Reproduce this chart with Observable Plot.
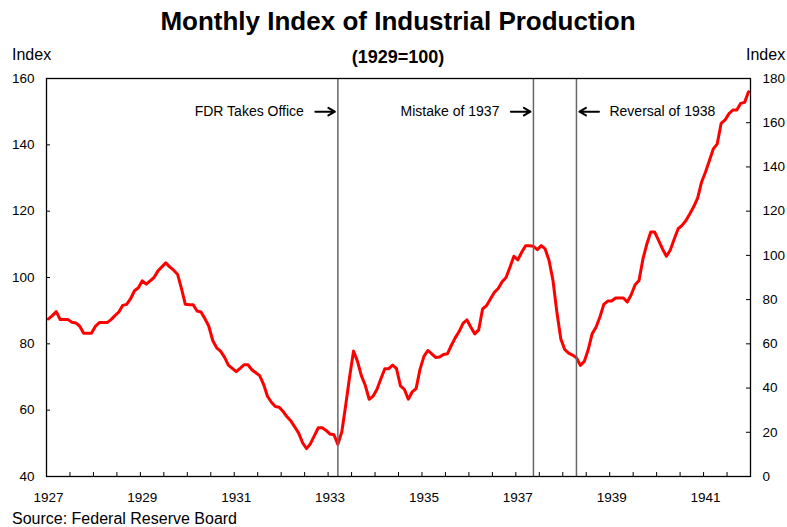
<!DOCTYPE html>
<html>
<head>
<meta charset="utf-8">
<script src="https://cdn.jsdelivr.net/npm/d3@7"></script>
<script src="https://cdn.jsdelivr.net/npm/@observablehq/plot@0.6"></script>
<style>
  html, body { margin: 0; padding: 0; background: #fff; }
  #wrap { position: relative; width: 787px; height: 527px; font-family: "Liberation Sans", Arial, sans-serif; color: #000; }
  #wrap svg { position: absolute; left: 0; top: 0; }
  .t { position: absolute; line-height: 1; white-space: nowrap; }
</style>
</head>
<body>
<div id="wrap">
  <div class="t" style="left:46px;width:704px;top:8px;text-align:center;font-size:26px;font-weight:bold;">Monthly Index of Industrial Production</div>
  <div class="t" style="left:46px;width:704px;top:48px;text-align:center;font-size:18px;font-weight:bold;">(1929=100)</div>
  <div class="t" style="left:12px;top:47px;font-size:16px;">Index</div>
  <div class="t" style="left:746px;top:47px;font-size:16px;">Index</div>
  <div class="t" style="left:12px;top:511px;font-size:16px;">Source: Federal Reserve Board</div>
</div>
<script>
// Monthly values (Jan..Dec), left axis scale, 1929 = 100
const ip1927 = [87.5, 88.5, 89.7, 87.3, 87.3, 87.3, 86.5, 86.3, 85.3, 83.2, 83.2, 83.2];
const ip1928 = [85.3, 86.4, 86.4, 86.4, 87.3, 88.5, 89.6, 91.6, 91.9, 93.6, 96.0, 96.9];
const ip1929 = [99.0, 98.0, 99.0, 100.0, 102.0, 103.2, 104.4, 103.2, 102.2, 101.0, 96.7, 91.9];
const ip1930 = [91.8, 91.8, 89.9, 89.6, 87.6, 85.3, 81.0, 78.8, 77.8, 76.0, 73.6, 72.6];
const ip1931 = [71.6, 72.6, 73.7, 73.7, 72.2, 71.3, 70.4, 67.8, 64.2, 62.4, 61.1, 60.9];
const ip1932 = [59.6, 58.0, 56.7, 54.9, 53.0, 50.1, 48.4, 49.9, 52.3, 54.7, 54.7, 53.9];
const ip1933 = [52.8, 52.6, 49.7, 53.4, 61.5, 70.0, 77.8, 74.8, 70.4, 67.5, 63.3, 64.2];
const ip1934 = [66.3, 69.5, 72.5, 72.5, 73.6, 72.5, 67.3, 66.3, 63.3, 65.5, 66.5, 72.3];
const ip1935 = [76.2, 78.0, 77.0, 75.9, 76.0, 76.8, 77.0, 79.5, 81.8, 83.7, 86.2, 87.2];
const ip1936 = [85.0, 83.0, 84.2, 90.5, 91.5, 93.5, 95.5, 96.7, 98.7, 100.0, 103.1, 106.4];
const ip1937 = [105.3, 107.6, 109.6, 109.6, 109.4, 108.4, 109.6, 108.6, 105.1, 99.1, 89.5, 81.5];
const ip1938 = [78.3, 77.2, 76.6, 75.8, 73.5, 74.7, 78.2, 83.0, 85.0, 88.1, 91.9, 92.9];
const ip1939 = [92.9, 93.8, 93.8, 93.8, 92.6, 94.8, 97.8, 99.1, 105.6, 110.1, 113.7, 113.7];
const ip1940 = [111.2, 108.6, 106.4, 108.3, 111.6, 114.7, 115.7, 117.2, 119.2, 121.4, 124.0, 128.8];
const ip1941 = [131.8, 135.3, 138.8, 140.3, 146.5, 147.5, 149.4, 150.5, 150.5, 152.5, 152.8, 156.0];

const years = [1927, 1928, 1929, 1930, 1931, 1932, 1933, 1934, 1935, 1936, 1937, 1938, 1939, 1940, 1941];
const series = [ip1927, ip1928, ip1929, ip1930, ip1931, ip1932, ip1933, ip1934, ip1935, ip1936, ip1937, ip1938, ip1939, ip1940, ip1941];

const xTickLabels = [1927, 1929, 1931, 1933, 1935, 1937, 1939, 1941];
const yLeftTicks = [40, 60, 80, 100, 120, 140, 160];
const yRightLabels = [0, 20, 40, 60, 80, 100, 120, 140, 160, 180];
// right axis: 0..180 spans the same height as left 40..160
const rightToLeft = r => 40 + r * (120 / 180);

// events: year, month (1-12), label, side of label
const eventYear = [1933, 1937, 1938];
const eventMonth = [3, 5, 4];
const eventLabel = ["FDR Takes Office", "Mistake of 1937", "Reversal of 1938"];
const eventSide = ["left", "left", "right"];
const annotationLevel = 150;

const data = [];
years.forEach((y, k) => series[k].forEach((v, m) => data.push({t: y + m / 12, v})));
const events = eventYear.map((y, i) => ({t: y + (eventMonth[i] - 1) / 12, label: eventLabel[i], side: eventSide[i]}));
const leftEv = events.filter(e => e.side === "left");
const rightEv = events.filter(e => e.side === "right");
const minorTicks = years.flatMap(y => [y - 1 / 24, y + 0.5 - 1 / 24]).concat([1941 + 11.5 / 12]);
const rightTicks = yRightLabels.map(rightToLeft);

const W = 787, H = 527, mT = 78, mR = 37, mB = 51, mL = 46;
const pw = W - mL - mR, ph = H - mT - mB;
const arrowSpan = 0.48; // years

const chart = Plot.plot({
  width: W, height: H,
  marginTop: mT, marginRight: mR, marginBottom: mB, marginLeft: mL,
  style: {fontFamily: "'Liberation Sans', Arial, sans-serif", fontSize: "13.5px", color: "#000", background: "transparent", overflow: "visible"},
  x: {domain: [1927 - 0.5 / 12, 1941 + 11.5 / 12]},
  y: {domain: [40, 160]},
  marks: [
    Plot.line(data, {x: "t", y: "v", stroke: "#ff0000", strokeWidth: 3, strokeLinejoin: "round"}),
    Plot.ruleX(events, {x: "t", stroke: "#666", strokeWidth: 1.5}),
    Plot.arrow(leftEv, {x1: d => d.t - arrowSpan, x2: "t", y1: annotationLevel, y2: annotationLevel, insetEnd: 3, stroke: "#000", strokeWidth: 2, headLength: 8}),
    Plot.arrow(rightEv, {x1: d => d.t + arrowSpan, x2: "t", y1: annotationLevel, y2: annotationLevel, insetEnd: 3, stroke: "#000", strokeWidth: 2, headLength: 8}),
    Plot.text(leftEv, {x: "t", y: annotationLevel, text: "label", textAnchor: "end", dx: -34, fontSize: 14, fill: "#000"}),
    Plot.text(rightEv, {x: "t", y: annotationLevel, text: "label", textAnchor: "start", dx: 33, fontSize: 14, fill: "#000"}),
    Plot.tickY(yLeftTicks, {y: d => d, insetRight: pw - 4, stroke: "#000"}),
    Plot.tickY(rightTicks, {y: d => d, insetLeft: pw - 4, stroke: "#000"}),
    Plot.tickX(minorTicks, {x: d => d, insetTop: ph - 4, stroke: "#000"}),
    Plot.frame({stroke: "#000", strokeWidth: 1.3}),
    Plot.axisY({anchor: "left", ticks: yLeftTicks, tickSize: 0, tickPadding: 12, label: null, fontSize: 13.5}),
    Plot.axisY({anchor: "right", ticks: rightTicks, tickFormat: d => String(Math.round((d - 40) * 1.5)), tickSize: 0, tickPadding: 12, label: null, fontSize: 13.5}),
    Plot.axisX({ticks: xTickLabels, tickFormat: d => String(d), tickSize: 0, tickPadding: 16, label: null, fontSize: 13.5})
  ]
});
document.getElementById("wrap").prepend(chart);
</script>
</body>
</html>
